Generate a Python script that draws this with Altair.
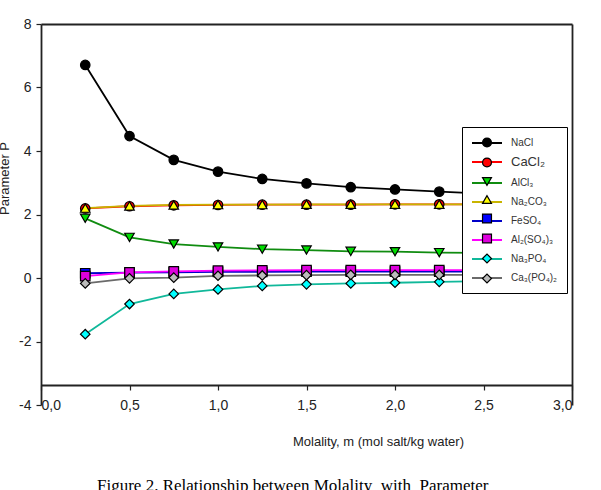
import altair as alt
import pandas as pd

molality = [0.25, 0.5, 0.75, 1.0, 1.25, 1.5, 1.75, 2.0, 2.25, 2.5, 2.75]

series_names = ["NaCl", "CaCl₂", "AlCl₃", "Na₂CO₃", "FeSO₄", "Al₂(SO₄)₃", "Na₃PO₄", "Ca₃(PO₄)₂"]

nacl = [6.71, 4.47, 3.72, 3.35, 3.12, 2.98, 2.86, 2.79, 2.72, 2.66, 2.62]
cacl2 = [2.19, 2.26, 2.29, 2.30, 2.31, 2.31, 2.31, 2.32, 2.32, 2.32, 2.32]
alcl3 = [1.88, 1.28, 1.07, 0.98, 0.91, 0.88, 0.84, 0.83, 0.80, 0.79, 0.78]
na2co3 = [2.20, 2.27, 2.30, 2.31, 2.31, 2.32, 2.32, 2.32, 2.32, 2.32, 2.32]
feso4 = [0.15, 0.17, 0.18, 0.19, 0.19, 0.20, 0.20, 0.20, 0.20, 0.20, 0.20]
al2so43 = [0.06, 0.18, 0.21, 0.23, 0.24, 0.25, 0.25, 0.25, 0.25, 0.25, 0.25]
na3po4 = [-1.77, -0.82, -0.50, -0.36, -0.25, -0.20, -0.17, -0.15, -0.12, -0.10, -0.09]
ca3po42 = [-0.17, -0.01, 0.01, 0.07, 0.08, 0.09, 0.10, 0.10, 0.10, 0.10, 0.10]

line_colors = ["#000000", "#ff0000", "#108c10", "#c8b400", "#0000c8", "#ff00ff", "#10b89a", "#6a6a6a"]
fill_colors = ["#000000", "#ff0000", "#00dd00", "#ffff00", "#0000ff", "#dd00dd", "#00ffff", "#bcbcbc"]
shapes = ["circle", "circle", "triangle-down", "triangle-up", "square", "square", "diamond", "diamond"]

values = [nacl, cacl2, alcl3, na2co3, feso4, al2so43, na3po4, ca3po42]
rows = []
for name, vals in zip(series_names, values):
    for m, p in zip(molality, vals):
        rows.append({"m": m, "P": p, "series": name, "series_pt": name + " "})
df = pd.DataFrame(rows)
pt_domain = [n + " " for n in series_names]

FONT = "Liberation Sans"
label_size_expr = "(datum.label == 'CaCl₂' || datum.label == 'CaCl₂ ') ? 13 : 10"

x_scale = alt.Scale(domain=[0, 3], nice=False, zero=False)
y_scale = alt.Scale(domain=[-4, 8], nice=False, zero=False)

lines = alt.Chart(df).mark_line(strokeWidth=1.8).encode(
    x=alt.X("m:Q", scale=x_scale, axis=alt.Axis(
        values=[0, 0.5, 1.0, 1.5, 2.0, 2.5, 3.0],
        labelExpr="replace(format(datum.value, '.1f'), '.', ',')",
        offset=-20, grid=False, domainColor="#222", domainWidth=1.8,
        tickColor="#222", tickSize=5, tickWidth=1.2, labelPadding=8,
        labelFont=FONT, labelFontSize=14, labelColor="#222",
        title="Molality, m (mol salt/kg water)", titleFont=FONT,
        titleFontSize=13, titleFontWeight="normal", titleColor="#222",
        titleX=337, titleY=56, titleBaseline="middle",
    )),
    y=alt.Y("P:Q", scale=y_scale, axis=alt.Axis(
        values=[-4, -2, 0, 2, 4, 6, 8], grid=False,
        labelExpr="datum.value < 0 ? '-' + abs(datum.value) : '' + datum.value",
        domainColor="#222", domainWidth=1.8, tickColor="#222", tickSize=5,
        tickWidth=1.2, labelPadding=5, labelFont=FONT, labelFontSize=14,
        labelColor="#222",
        title="Parameter P", titleFont=FONT, titleFontSize=13,
        titleFontWeight="normal", titleColor="#222",
        titleX=-30, titleY=154, titleBaseline="bottom", titleAlign="center",
    )),
    stroke=alt.Stroke("series:N", scale=alt.Scale(domain=series_names, range=line_colors),
                      legend=alt.Legend(
                          title=None, orient="none", legendX=421, legendY=103,
                          symbolType="M-3,0H3", symbolSize=100, symbolStrokeWidth=2,
                          symbolOffset=9,
                          strokeColor="black", fillColor="white", padding=10,
                          labelFont=FONT, labelFontSize=alt.ExprRef(label_size_expr),
                          labelColor="#333", rowPadding=8, labelOffset=18, labelLimit=200,
                          zindex=1,
                      )),
    detail="series:N",
)

points = alt.Chart(df).mark_point(filled=True, stroke="black", strokeWidth=1.2, opacity=1, size=90).encode(
    x=alt.X("m:Q", scale=x_scale, axis=None),
    y=alt.Y("P:Q", scale=y_scale, axis=None),
    fill=alt.Fill("series_pt:N", scale=alt.Scale(domain=pt_domain, range=fill_colors),
                  legend=alt.Legend(
                      title=None, orient="none", legendX=421, legendY=103,
                      symbolSize=80, symbolStrokeColor="black", symbolStrokeWidth=1.2,
                      symbolOffset=9.5, labelExpr="' '",
                      padding=10, labelFont=FONT, labelFontSize=alt.ExprRef(label_size_expr),
                      labelOpacity=0, rowPadding=5, labelOffset=18, labelLimit=200,
                      strokeColor="transparent", zindex=3,
                  )),
    shape=alt.Shape("series_pt:N", scale=alt.Scale(domain=pt_domain, range=shapes)),
)

frame = alt.Chart(df).mark_point(opacity=0).encode(
    x=alt.X("m:Q", scale=x_scale, axis=alt.Axis(
        orient="top", labels=False, ticks=False, grid=False, title=None,
        domainColor="#222", domainWidth=1.8)),
    y=alt.Y("P:Q", scale=y_scale, axis=alt.Axis(
        orient="right", labels=False, ticks=False, grid=False, title=None,
        domainColor="#222", domainWidth=1.8)),
)

chart = alt.layer(lines, points, frame).resolve_axis(
    x="independent", y="independent"
).properties(
    width=531, height=381,
    autosize=alt.AutoSizeParams(type="none"),
    padding={"left": 41, "top": 24, "right": 29, "bottom": 85},
    background="white",
    title=alt.TitleParams(
        text="Figure 2. Relationship between Molality\u00a0\u00a0with\u00a0\u00a0Parameter",
        orient="bottom", anchor="start", frame="group", dx=56, offset=30,
        font="Liberation Serif", fontSize=17, fontWeight="normal", color="black",
        baseline="top",
    ),
).configure_view(stroke=None)

chart.save("out.html", embed_options={"renderer": "svg", "actions": False})
